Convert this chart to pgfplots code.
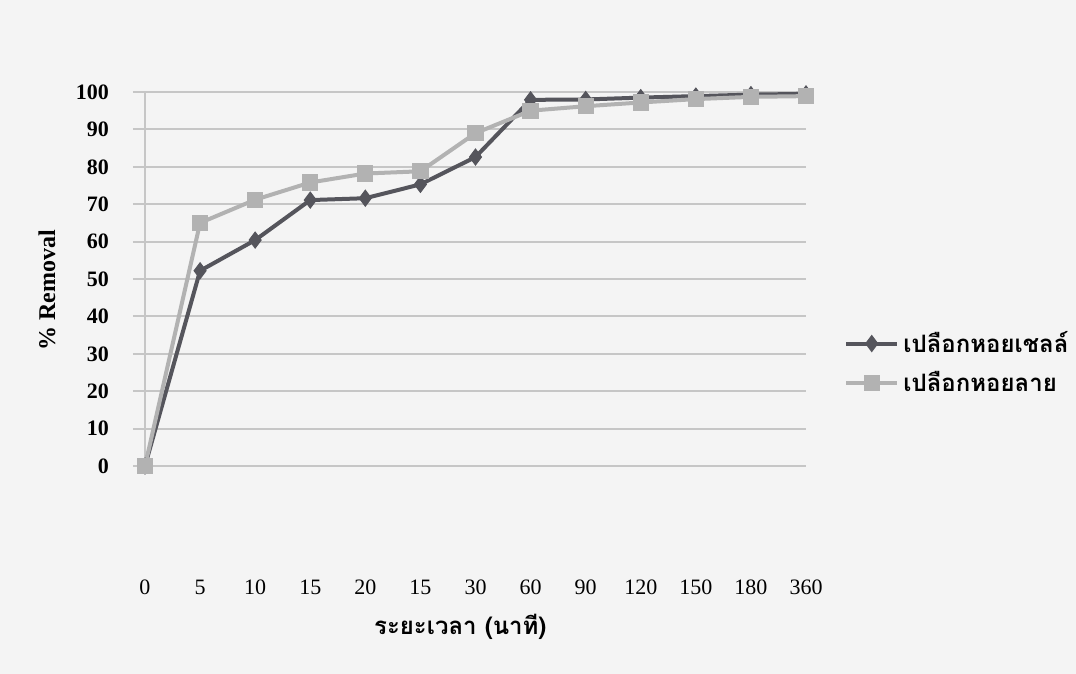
\documentclass[border=0pt]{standalone}
\usepackage{fontspec}
\setmainfont{Liberation Serif}
\newfontfamily\thaifont[Script=Thai]{Loma}
\usepackage{pgfplots}
\pgfplotsset{compat=1.18}

\definecolor{shellA}{RGB}{85,85,92}
\definecolor{shellB}{RGB}{178,178,178}
\definecolor{gridc}{RGB}{198,198,198}
\definecolor{bgc}{RGB}{244,244,244}

% series 1: scallop shell, series 2: surf clam shell (x = category index)
\pgfplotstableread{
x y
0 0
1 52.2
2 60.4
3 71.1
4 71.6
5 75.3
6 82.6
7 97.9
8 98.0
9 98.5
10 98.9
11 99.3
12 99.5
}\scallop
\pgfplotstableread{
x y
0 0
1 65.0
2 71.2
3 75.8
4 78.2
5 78.8
6 89.0
7 95.0
8 96.2
9 97.2
10 98.1
11 98.7
12 98.9
}\clam

\begin{document}
\begin{tikzpicture}
\fill[bgc] (-72.5pt,-104pt) rectangle (465.5pt,233pt);
\useasboundingbox (-72.5pt,-104pt) rectangle (465.5pt,233pt);
\begin{axis}[
    at={(0,0)}, anchor=south west,
    scale only axis,
    width=330.5pt, height=187pt,
    xmin=0, xmax=12, ymin=0, ymax=100,
    clip=false,
    axis lines*=left,
    axis line style={draw=gridc, line width=1pt},
    xtick={0,...,12},
    xticklabels={0,5,10,15,20,15,30,60,90,120,150,180,360},
    xtick style={draw=none},
    xticklabel style={anchor=center, yshift=-54.5pt, font=\fontsize{11}{13}\selectfont},
    ytick={0,10,...,100},
    ytick style={draw=gridc, line width=1pt},
    tick align=outside,
    major tick length=6pt,
    yticklabel style={anchor=east, xshift=-8.5pt, font=\fontsize{11}{13}\selectfont\bfseries},
    /pgf/number format/assume math mode=true,
    ymajorgrids,
    grid style={draw=gridc, line width=1pt},
    xlabel={\thaifont\bfseries ระยะเวลา (นาที)},
    xlabel style={at={(rel axis cs:0.477,0)}, anchor=center, yshift=-80.5pt, font=\fontsize{12}{14}\selectfont},
    ylabel={\bfseries \% Removal},
    ylabel style={at={(rel axis cs:0,0.47)}, anchor=center, yshift=49pt, font=\fontsize{12}{14}\selectfont},
    legend style={at={(rel axis cs:1.048,0.275)}, anchor=west, draw=none, fill=none,
        font=\fontsize{12}{14}\selectfont\thaifont\bfseries, row sep=4pt,
        /tikz/every even column/.append style={column sep=0pt}},
    legend cell align=left,
    legend image code/.code={
        \draw[mark repeat=2, mark phase=2] plot coordinates {(0cm,0cm) (0.45cm,0cm) (0.9cm,0cm)};
    },
]
\addplot[color=shellA, line width=2pt, mark=diamond*, mark size=4pt,
    mark options={fill=shellA, line width=0.5pt}] table[x=x, y=y] {\scallop};
\addlegendentry{เปลือกหอยเชลล์}
\addplot[color=shellB, line width=2pt, mark=square*, mark size=3.8pt,
    mark options={fill=shellB, line width=0.5pt}] table[x=x, y=y] {\clam};
\addlegendentry{เปลือกหอยลาย}
\end{axis}
\end{tikzpicture}
\end{document}
